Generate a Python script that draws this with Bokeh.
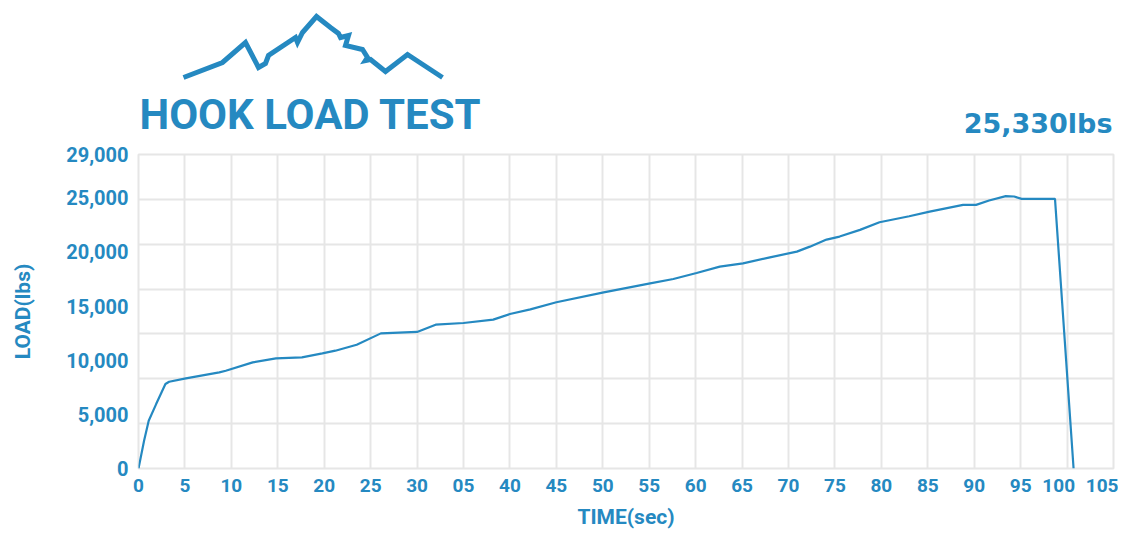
from bokeh.plotting import figure
from bokeh.layouts import column
from bokeh.models import Range1d, FixedTicker, NumeralTickFormatter
from bokeh.core.properties import value
from bokeh.embed import file_html
from bokeh.resources import INLINE

# ---- data ----
time_sec = [0, 0.6, 1.1, 1.9, 2.4, 2.9, 3.3, 5.1, 8.7, 9.4, 12.3, 14.8, 17.6, 19.8, 21.2,
            23.5, 26.1, 30.0, 32.0, 35.0, 38.2, 40.0, 42.2, 45.0, 50.1, 55.1, 57.6, 60.1,
            62.6, 65.1, 68.0, 70.9, 72.3, 74.1, 75.5, 77.7, 79.8, 83.0, 85.2, 88.8, 90.2,
            91.6, 93.4, 94.3, 95.1, 98.7, 100.7]
load_lbs = [0, 2560, 4410, 5950, 6880, 7800, 8015, 8320, 8875, 9030, 9800, 10170, 10260, 10630, 10880,
            11435, 12480, 12610, 13280, 13440, 13750, 14270, 14700, 15350, 16270, 17100, 17500, 18060,
            18650, 18950, 19500, 20030, 20490, 21140, 21420, 22040, 22740, 23300, 23730, 24350, 24350,
            24750, 25150, 25120, 24900, 24900, 0]

x_tick_values = list(range(0, 106, 5))
x_tick_labels = ["0", "5", "10", "15", "20", "25", "30", "05", "40", "45", "50", "55",
                 "60", "65", "70", "75", "80", "85", "90", "95", "100", "105"]
y_tick_values = [0, 5000, 10000, 15000, 20000, 25000, 29000]
y_max = 29000
x_max = 105

title_text = "HOOK LOAD TEST"
peak_text = "25,330lbs"

# ---- style ----
BLUE = "#2589c1"
GRID = "#e6e6e6"
TICK_FONT = "Roboto"
W = 1118
LEFT = 138
RIGHT = 5
HEAD_H = 140
# the two three-digit labels sit a little left of their grid lines in the reference
label_nudge = {100: -0.9, 105: -0.9}

# ---- header (logo + titles), page-pixel coordinates ----
header = figure(width=W, height=HEAD_H, x_range=Range1d(LEFT, W - RIGHT), y_range=Range1d(HEAD_H, 0),
                x_axis_type=None, y_axis_type=None, output_backend="svg",
                toolbar_location=None, min_border=0, min_border_left=LEFT, min_border_right=RIGHT,
                min_border_top=0, min_border_bottom=0, outline_line_color=None)
header.grid.visible = False
logo_x = [183, 222, 245, 258, 265, 268, 295, 297, 302, 316, 330, 338, 340, 348, 345, 362, 367,
          365, 370, 385, 407, 442]
logo_y = [77, 62, 42, 67, 63, 55, 37, 42, 32, 16, 27, 33, 37, 35, 45, 49, 57, 60, 59, 71, 54, 77]
header.line(logo_x, logo_y, line_color=BLUE, line_width=5, line_join="miter")
header.text(x=[139], y=[114], text=[title_text], text_font=value("Roboto"),
            text_font_style="bold", text_font_size="42px", text_color=BLUE,
            text_align="left", text_baseline="middle")
header.text(x=[1112], y=[123], text=[peak_text], text_font=value("DejaVu Sans"),
            text_font_style="bold", text_font_size="27px", text_color=BLUE,
            text_align="right", text_baseline="middle")

# ---- main chart ----
p = figure(width=W, height=395, x_range=Range1d(0, x_max), y_range=Range1d(0, y_max),
           output_backend="svg", toolbar_location=None,
           min_border_left=LEFT, min_border_right=RIGHT, min_border_top=14, min_border_bottom=67)
p.line(time_sec, load_lbs, line_color=BLUE, line_width=2.2)

p.outline_line_color = GRID
p.outline_line_width = 2

label_pos = [v + label_nudge.get(v, 0) for v in x_tick_values]
p.xaxis.ticker = FixedTicker(ticks=label_pos)
p.xaxis.major_label_overrides = {pos: s for pos, s in zip(label_pos, x_tick_labels)}
p.yaxis.ticker = FixedTicker(ticks=y_tick_values)
p.yaxis.formatter = NumeralTickFormatter(format="0,0")

p.xgrid.ticker = FixedTicker(ticks=x_tick_values)
p.ygrid.ticker = FixedTicker(ticks=[y_max * i / 7 for i in range(8)])
p.grid.grid_line_color = GRID
p.grid.grid_line_width = 2

for ax in (p.xaxis, p.yaxis):
    ax.axis_line_color = None
    ax.major_tick_line_color = None
    ax.minor_tick_line_color = None
    ax.major_tick_out = 0
    ax.major_tick_in = 0
    ax.major_label_text_font = TICK_FONT
    ax.major_label_text_font_style = "bold"
    ax.major_label_text_color = BLUE
    ax.axis_label_text_font = TICK_FONT
    ax.axis_label_text_font_style = "bold"
    ax.axis_label_text_font_size = "21px"
    ax.axis_label_text_color = BLUE

p.xaxis.major_label_text_font_size = "19px"
p.yaxis.major_label_text_font_size = "20px"
p.xaxis.axis_label = "TIME(sec)"
p.yaxis.axis_label = "LOAD(lbs)"
p.xaxis.major_label_standoff = 10
p.xaxis.axis_label_standoff = 10
p.yaxis.major_label_standoff = 10
p.yaxis.axis_label_standoff = 28

layout = column(header, p, spacing=0)
open("out.html", "w").write(file_html(layout, INLINE))
